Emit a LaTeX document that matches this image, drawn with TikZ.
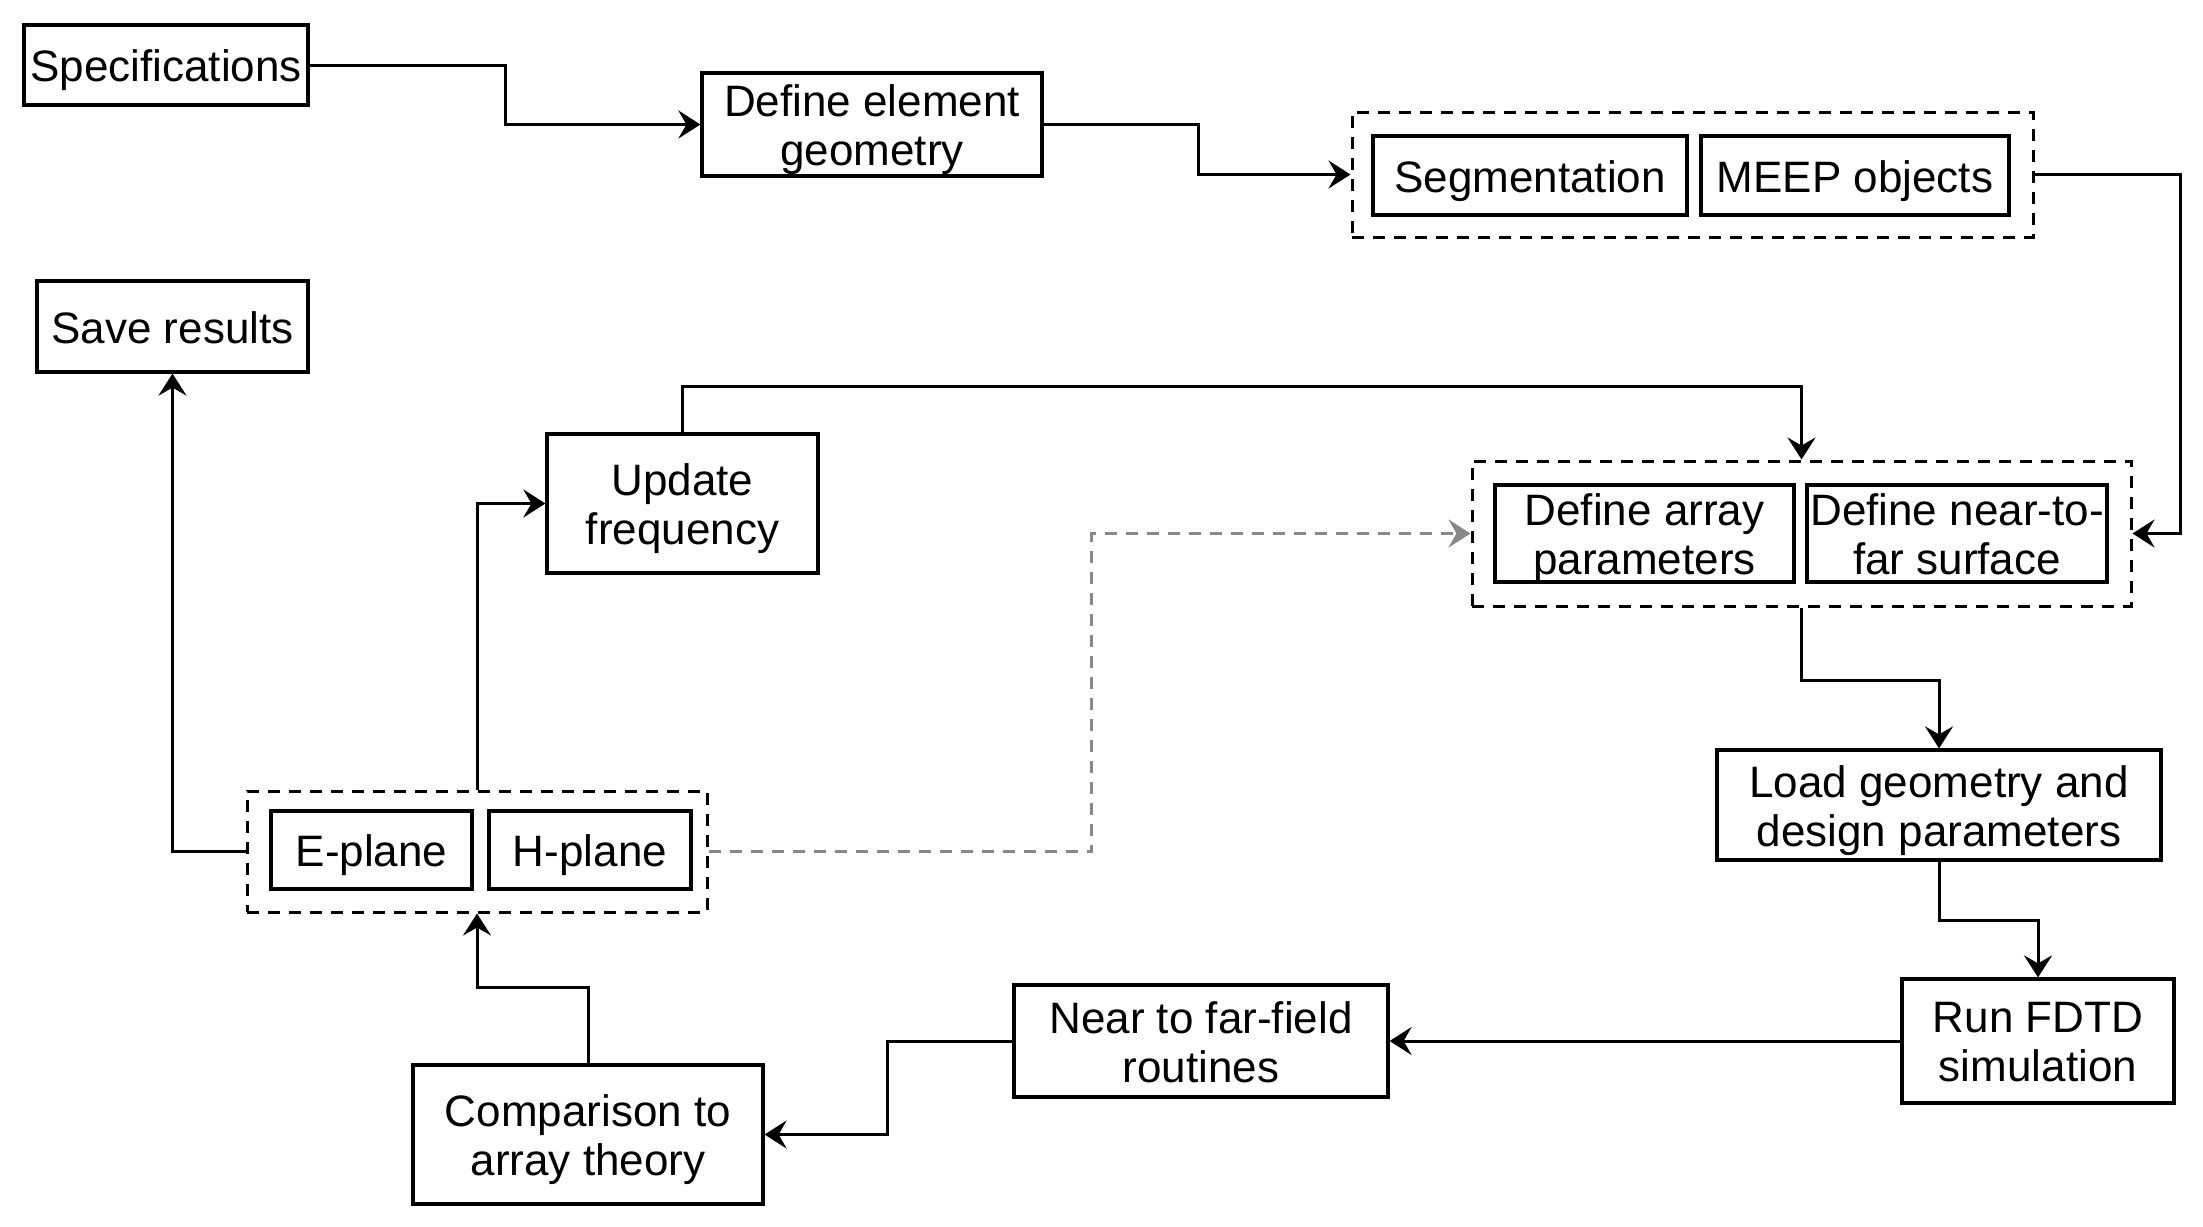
\documentclass[tikz,border=0pt]{standalone}
\usepackage{fontspec}
\setmainfont{Liberation Sans}
\usetikzlibrary{arrows.meta}
\definecolor{lgray}{RGB}{136,136,136}
\newcommand\mybox[5]{%
  \node[box, minimum width=#2, minimum height=#3] (#1) at #4 {};
  \node[txt] (#1-t) at ([yshift=-2.8pt]#1.center) {#5\vphantom{g}};}
\begin{document}
\begin{tikzpicture}[x=0.5pt,y=-0.5pt,
 box/.style={draw, line width=1.6pt, rectangle, inner sep=0pt},
 txt/.style={inner sep=0pt, align=center, font=\fontsize{22}{24.5}\selectfont},
 grp/.style={draw, line width=1.5pt, dash pattern=on 6pt off 4.5pt, rectangle, inner sep=0pt},
 conn/.style={line width=1.5pt, -{Stealth[length=11pt,width=14pt,inset=4pt]}},
 gconn/.style={conn, draw=lgray, dash pattern=on 6pt off 4.5pt},
]
\useasboundingbox (0,0) rectangle (2203,1226);
% groups
\node[grp, minimum width=340.5pt, minimum height=62.5pt] (g1) at (1692.5,174.5) {};
\node[grp, minimum width=329.5pt, minimum height=72.5pt] (g2) at (1801.5,533.5) {};
\node[grp, minimum width=230pt, minimum height=60.5pt] (g3) at (477,851.5) {};
% boxes
\mybox{spec}{142pt}{40pt}{(166,65)}{Specifications}
\mybox{defgeo}{170pt}{51.5pt}{(872,124.5)}{Define element\\geometry}
\mybox{seg}{157pt}{39.5pt}{(1530,175.5)}{Segmentation}
\mybox{meep}{154pt}{39.5pt}{(1855,175.5)}{MEEP objects}
\mybox{save}{135.5pt}{45.5pt}{(172.5,326.5)}{Save results}
\mybox{upd}{135.5pt}{69.5pt}{(682.5,503.5)}{Update\\frequency}
\mybox{arr}{149.5pt}{48.5pt}{(1644.5,533.5)}{Define array\\parameters}
\mybox{n2f}{150pt}{48.5pt}{(1957,533.5)}{Define near-to-\\far surface}
\mybox{load}{222pt}{55pt}{(1939,805)}{Load geometry and\\design parameters}
\mybox{run}{136pt}{62pt}{(2038,1041)}{Run FDTD\\simulation}
\mybox{nff}{187pt}{56pt}{(1201,1041)}{Near to far-field\\routines}
\mybox{cmp}{175pt}{69.5pt}{(588,1134.5)}{Comparison to\\array theory}
\mybox{ep}{100.5pt}{39pt}{(371.5,850)}{E-plane}
\mybox{hp}{101pt}{39pt}{(590,850)}{H-plane}
% connectors
\draw[conn] (spec.east) -- ++(196,0) |- (defgeo.west);
\draw[conn] (defgeo.east) -- ++(155,0) |- (g1.west);
\draw[conn] (g1.east) -- ++(146,0) |- (g2.east);
\draw[conn] (upd.north) -- ++(0,-46) -| (g2.north);
\draw[conn] (g2.south) -- ++(0,73) -| (load.north);
\draw[conn] (load.south) -- ++(0,59) -| (run.north);
\draw[conn] (run.west) -- (nff.east);
\draw[conn] (nff.west) -- ++(-125,0) |- (cmp.east);
\draw[conn] (cmp.north) -- ++(0,-76) -| (g3.south);
\draw[conn] (g3.north) |- (upd.west);
\draw[conn] (g3.west) -| (save.south);
\draw[gconn] (g3.east) -- ++(383,0) |- (g2.west);
\end{tikzpicture}
\end{document}
